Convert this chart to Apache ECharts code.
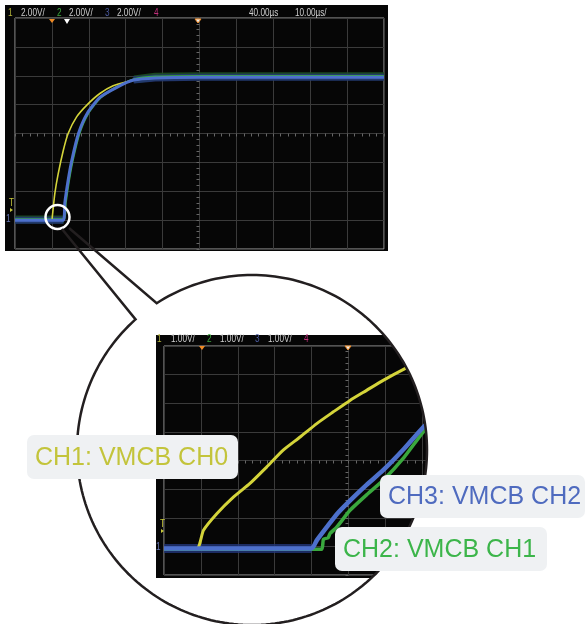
<!DOCTYPE html>
<html>
<head>
<meta charset="utf-8">
<script src="https://cdn.jsdelivr.net/npm/echarts@6/dist/echarts.min.js"></script>
<style>
    html, body { margin: 0; padding: 0; background: #fff; }
    #main { width: 586px; height: 624px; }
</style>
</head>
<body>
<div id="main"></div>
<script>
// main screen, 10 us/div, 2 V/div  -> [time us, volts]
var mainYellow = [[0, 0], [10.0, 0], [10.1, 0.2], [10.8, 1.85], [11.7, 3.2], [13.1, 4.84], [14.4, 6.0],
    [16.7, 7.15], [19.6, 8.0], [23.0, 8.77], [26.6, 9.3], [30.3, 9.58], [33.9, 9.76], [40, 9.87], [50, 9.9], [100, 9.9]];
var mainGreen = [[0, 0.05], [13.2, 0.05], [13.7, 1.2], [14.6, 2.77], [15.6, 4.15], [17.4, 6.0], [19.8, 7.4],
    [23.2, 8.5], [27.8, 9.25], [32.3, 9.75], [38, 9.93], [50, 9.97], [100, 9.97]];
var mainBlue = [[0, 0], [13.1, 0], [13.5, 1.2], [14.4, 2.77], [15.4, 4.15], [17.2, 6.0], [19.6, 7.4],
    [23.0, 8.5], [27.6, 9.2], [32.1, 9.7], [38, 9.85], [50, 9.9], [100, 9.9]];

// zoomed screen, 1 us/div, 1 V/div
var zoomYellow = [[0, -0.07], [0.89, -0.07], [1.07, 0.56], [1.43, 1.14], [1.88, 1.72], [2.33, 2.2], [2.78, 2.77],
    [3.23, 3.36], [3.69, 3.82], [4.14, 4.29], [4.59, 4.7], [5.04, 5.1], [5.49, 5.45], [5.94, 5.8], [6.53, 6.21], [7.0, 6.5]];
var zoomGreen = [[0, -0.1], [4.0, -0.1], [4.28, -0.1], [4.32, 0.25], [4.45, 0.3], [4.5, 0.45], [4.68, 0.67],
    [5.04, 1.26], [5.49, 1.8], [5.94, 2.31], [6.5, 3.1], [7.03, 4.0], [7.4, 4.45]];
var zoomBlue = [[0, -0.07], [4.0, -0.07], [4.14, 0.21], [4.41, 0.67], [4.7, 1.15], [5.04, 1.6], [5.49, 2.15],
    [5.94, 2.66], [6.5, 3.4], [7.03, 4.17], [7.4, 4.6]];

var mainScale = ['2.00V/', '2.00V/', '2.00V/'];
var zoomScale = ['1.00V/', '1.00V/', '1.00V/'];
var mainTime = ['40.00µs', '10.00µs/'];
var channelNames = ['CH1: VMCB CH0', 'CH3: VMCB CH2', 'CH2: VMCB CH1'];

var YEL = '#d4d43a', GRN = '#3aa83e', BLU = '#4d70cc';
var chart = echarts.init(document.getElementById('main'));

// keep only the flat parts of a trace (for the noise band)
function band(data, lo, hi) {
    return data.map(function (p) {
        return (p[1] > lo && p[1] < hi) ? [p[0], '-'] : p;
    });
}

function trace(data, xi, color, width, opacity, smooth) {
    return {
        type: 'line', xAxisIndex: xi, yAxisIndex: xi, data: data,
        showSymbol: false, symbol: 'none', silent: true, clip: true,
        smooth: smooth || false,
        lineStyle: {color: color, width: width, opacity: opacity == null ? 1 : opacity}
    };
}

var gridLine = {show: true, lineStyle: {color: '#3a3a3a', width: 1}};
function plainAxis(grid, min, max, interval) {
    return {
        gridIndex: grid, type: 'value', min: min, max: max, interval: interval,
        axisLine: {show: false}, axisTick: {show: false}, axisLabel: {show: false}, splitLine: gridLine
    };
}
function crossAxis(grid, half, other) {
    return {
        gridIndex: grid, type: 'value', min: -half, max: half, interval: 0.2,
        axisLine: {show: true, onZero: true, onZeroAxisIndex: other, lineStyle: {color: '#3a3a3a'}},
        axisTick: {show: true, inside: true, length: 3, lineStyle: {color: '#666'}},
        axisLabel: {show: false}, splitLine: {show: false}
    };
}

var hdrFont = '10px "Liberation Sans", Arial, sans-serif';
function hdr(x, y, text, color) {
    return {type: 'text', x: x, y: y, z: 5, scaleX: 0.82,
        style: {text: text, fill: color, font: hdrFont, verticalAlign: 'middle', align: 'left'}};
}
function tri(pts, fill, stroke) {
    return {type: 'polygon', z: 5, shape: {points: pts},
        style: {fill: fill, stroke: stroke || null, lineWidth: 1}};
}

// big magnifier circle
var CX = 252, CY = 450, R = 175;
function onCircle(deg) {
    var a = deg * Math.PI / 180;
    return [CX + R * Math.cos(a), CY + R * Math.sin(a)];
}
var callout = [[69, 228]];
for (var d = -123; d <= 228.3; d += 1.5) callout.push(onCircle(d));
callout.push(onCircle(228.3));
callout.push([62, 229]);

var mask = [];
for (var m = -50; m <= 70; m += 1.5) mask.push(onCircle(m));
mask.push([600, 620], [600, 310]);

var graphics = [
    {type: 'rect', z: -5, shape: {x: 5, y: 5, width: 383, height: 246}, style: {fill: '#060606'}},
    {type: 'rect', z: -5, shape: {x: 156, y: 335, width: 400, height: 243}, style: {fill: '#060606'}},

    hdr(8, 13, '1', '#b4b43a'), hdr(21, 13, mainScale[0], '#cfcfcf'),
    hdr(57, 13, '2', '#3fa83f'), hdr(69, 13, mainScale[1], '#cfcfcf'),
    hdr(105, 13, '3', '#4a5a9e'), hdr(117, 13, mainScale[2], '#cfcfcf'),
    hdr(154, 13, '4', '#c2307c'),
    hdr(249, 13, mainTime[0], '#cfcfcf'), hdr(295, 13, mainTime[1], '#cfcfcf'),

    hdr(157, 339.5, '1', '#b4b43a'), hdr(171, 339.5, zoomScale[0], '#cfcfcf'),
    hdr(207, 339.5, '2', '#3fa83f'), hdr(220, 339.5, zoomScale[1], '#cfcfcf'),
    hdr(255, 339.5, '3', '#4a5a9e'), hdr(268, 339.5, zoomScale[2], '#cfcfcf'),
    hdr(304, 339.5, '4', '#c2307c'),

    tri([[49, 19], [55, 19], [52, 23]], '#f08a24'),
    tri([[64, 19], [70, 19], [67, 24]], '#ffffff'),
    tri([[195, 19], [201, 19], [198, 23]], '#eeeeee', '#f08a24'),
    tri([[199, 346], [205, 346], [202, 350]], '#f08a24'),
    tri([[345, 346], [351, 346], [348, 350]], '#eeeeee', '#f08a24'),

    hdr(9, 203, 'T', '#c8c83a'), tri([[10, 208], [13, 210], [10, 212]], '#c8c83a'),
    hdr(6, 219, '1', '#6a7ab8'),
    hdr(160, 524, 'T', '#c8c83a'), tri([[161, 529], [164, 531], [161, 533]], '#c8c83a'),
    hdr(156, 547, '1', '#6a7ab8'),

    {type: 'polygon', z: 50, shape: {points: mask}, style: {fill: '#ffffff'}},
    {type: 'circle', z: 60, shape: {cx: 57.5, cy: 217, r: 12},
        style: {fill: null, stroke: '#ffffff', lineWidth: 2.5}},
    {type: 'polyline', z: 60, shape: {points: callout},
        style: {stroke: '#231f20', lineWidth: 2.5, lineJoin: 'miter', fill: null}}
];

var boxes = [
    {x: 27, y: 435, w: 211, h: 44, color: '#c3c43b'},
    {x: 380, y: 475, w: 205, h: 43, color: '#4f6bbf'},
    {x: 335, y: 527, w: 212, h: 44, color: '#3cb54a'}
];
boxes.forEach(function (b, i) {
    graphics.push({type: 'rect', z: 70, shape: {x: b.x, y: b.y, width: b.w, height: b.h, r: 7},
        style: {fill: '#eff1f3'}});
    graphics.push({type: 'text', z: 71, x: b.x + 8, y: b.y + b.h / 2 + 1,
        style: {text: channelNames[i], fill: b.color, font: '25px "Liberation Sans", Arial, sans-serif',
            verticalAlign: 'middle', align: 'left'}});
});

chart.setOption({
    animation: false,
    grid: [
        {left: 15, top: 18, width: 369, height: 231, show: true, borderColor: '#a0a0a0', borderWidth: 1,
            backgroundColor: 'transparent'},
        {left: 164, top: 346, width: 369, height: 229, show: true, borderColor: '#a0a0a0', borderWidth: 1,
            backgroundColor: 'transparent'}
    ],
    xAxis: [
        plainAxis(0, 0, 100, 10), crossAxis(0, 5, 1),
        plainAxis(1, 0, 10, 1), crossAxis(1, 5, 3)
    ],
    yAxis: [
        plainAxis(0, -2, 14, 2), crossAxis(0, 4, 1),
        plainAxis(1, -1, 7, 1), crossAxis(1, 4, 3)
    ],
    series: [
        trace(band(mainGreen, 0.3, 9.7), 0, '#1d4f24', 8, 0.9),
        trace(band(mainBlue, 0.3, 9.6), 0, '#24387a', 7, 0.85),
        trace(mainGreen, 0, GRN, 2.5, 1, 0.2),
        trace(mainYellow, 0, YEL, 1.6, 1, 0.2),
        trace(mainBlue, 0, BLU, 3, 1, 0.2),

        trace(band(zoomBlue, 0.1, 99), 2, '#22367a', 9, 0.8),
        trace(zoomYellow, 2, YEL, 3, 1, 0.2),
        trace(zoomGreen, 2, GRN, 3.5, 1, 0.15),
        trace(zoomBlue, 2, BLU, 4.5, 1, 0.2)
    ],
    graphic: {elements: graphics}
});
</script>
</body>
</html>
